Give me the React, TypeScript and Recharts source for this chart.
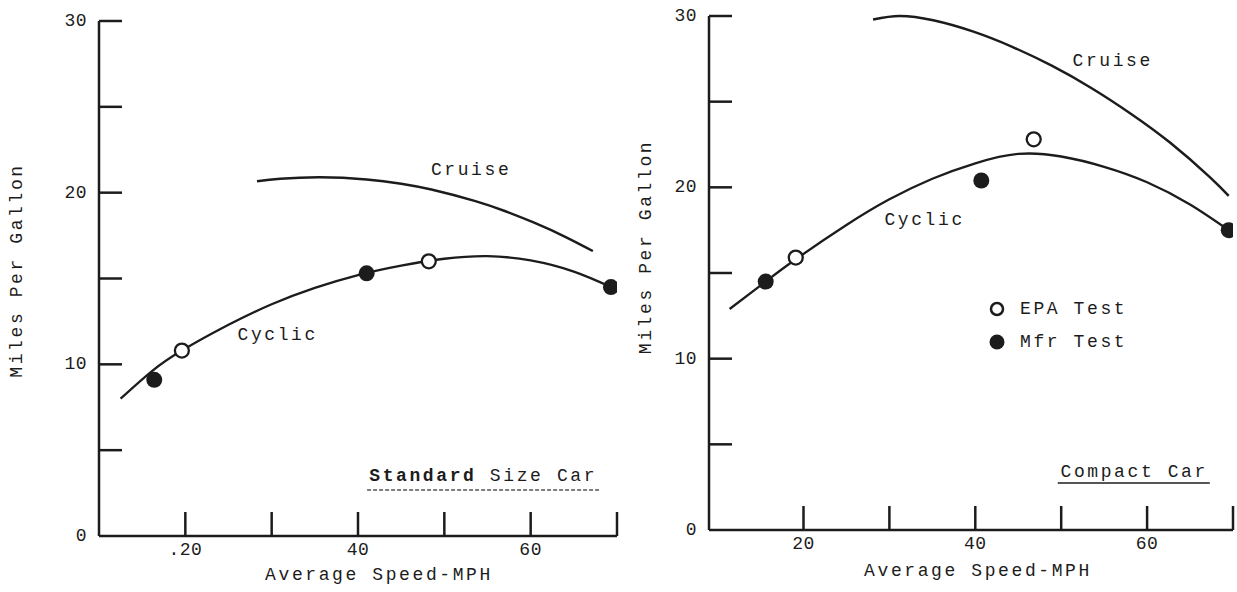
import React from 'react';
import {
  ComposedChart,
  Line,
  Scatter,
  XAxis,
  YAxis,
  ReferenceDot,
  ReferenceLine,
  Legend,
} from 'recharts';

const FONT = "'Liberation Mono', 'DejaVu Sans Mono', monospace";
const INK = '#1c1c1c';

// ---------- Standard size car (left) ----------
const stdCruise = [
  { x: 28.3, y: 20.67 },
  { x: 31, y: 20.81 },
  { x: 35.6, y: 20.9 },
  { x: 41, y: 20.77 },
  { x: 45, y: 20.52 },
  { x: 48.5, y: 20.18 },
  { x: 53.5, y: 19.52 },
  { x: 57, y: 18.93 },
  { x: 60.4, y: 18.25 },
  { x: 64, y: 17.43 },
  { x: 67.2, y: 16.6 },
];
const stdCyclic = [
  { x: 12.5, y: 8.0 },
  { x: 16, y: 9.55 },
  { x: 19.6, y: 10.8 },
  { x: 25, y: 12.3 },
  { x: 30, y: 13.5 },
  { x: 35, y: 14.45 },
  { x: 40, y: 15.2 },
  { x: 45, y: 15.75 },
  { x: 50, y: 16.15 },
  { x: 55, y: 16.3 },
  { x: 60, y: 16.05 },
  { x: 65, y: 15.4 },
  { x: 69.3, y: 14.5 },
];
const stdEpa = [
  { x: 19.6, y: 10.8 },
  { x: 48.2, y: 16.0 },
];
const stdMfr = [
  { x: 16.4, y: 9.1 },
  { x: 41.0, y: 15.3 },
  { x: 69.3, y: 14.5 },
];

// ---------- Compact car (right) ----------
const cmpCruise = [
  { x: 28.1, y: 29.8 },
  { x: 31.2, y: 30.0 },
  { x: 35.1, y: 29.75 },
  { x: 39.7, y: 29.1 },
  { x: 44.3, y: 28.2 },
  { x: 48.9, y: 27.1 },
  { x: 53.5, y: 25.8 },
  { x: 58.1, y: 24.3 },
  { x: 62.7, y: 22.6 },
  { x: 67.3, y: 20.6 },
  { x: 69.5, y: 19.5 },
];
const cmpCyclic = [
  { x: 11.4, y: 12.9 },
  { x: 15.6, y: 14.5 },
  { x: 19.1, y: 15.8 },
  { x: 25, y: 17.8 },
  { x: 30, y: 19.3 },
  { x: 35, y: 20.5 },
  { x: 40, y: 21.4 },
  { x: 45, y: 21.95 },
  { x: 50, y: 21.8 },
  { x: 55, y: 21.2 },
  { x: 60, y: 20.3 },
  { x: 65, y: 19.0 },
  { x: 69.5, y: 17.5 },
];
const cmpEpa = [
  { x: 19.1, y: 15.9 },
  { x: 46.8, y: 22.8 },
];
const cmpMfr = [
  { x: 15.6, y: 14.5 },
  { x: 40.7, y: 20.4 },
  { x: 69.5, y: 17.5 },
];

// ---------- axes / text ----------
const yTicks = [0, 5, 10, 15, 20, 25, 30];
const yLabeled = [0, 10, 20, 30];
const xTicks = [20, 30, 40, 50, 60, 70];
const stdXLabels: Record<number, string> = { 20: '.20', 40: '40', 60: '60' };
const cmpXLabels: Record<number, string> = { 20: '20', 40: '40', 60: '60' };
const xTitle = 'Average Speed-MPH';
const yTitle = 'Miles Per Gallon';
const legendItems = [
  { label: 'EPA Test', filled: false },
  { label: 'Mfr Test', filled: true },
];

const textStyle = {
  fontFamily: FONT,
  fontSize: 18,
  fill: INK,
  letterSpacing: 2.6,
};

const YTick = (props: any) => {
  const { x, y, payload } = props;
  const v = payload.value;
  return (
    <g>
      {v !== 0 && (
        <line x1={x} x2={x + 23} y1={y} y2={y} stroke={INK} strokeWidth={2.5} />
      )}
      {yLabeled.includes(v) && (
        <text
          x={x - 12}
          y={y}
          textAnchor="end"
          dominantBaseline="central"
          style={{ ...textStyle, letterSpacing: 0.5 }}
        >
          {v}
        </text>
      )}
    </g>
  );
};

const makeXTick = (labels: Record<number, string>) => (props: any) => {
  const { x, y, payload } = props;
  const v = payload.value;
  return (
    <g>
      <line x1={x} x2={x} y1={y} y2={y - 24} stroke={INK} strokeWidth={2.5} />
      {labels[v] && (
        <text
          x={x}
          y={y + 14}
          textAnchor="middle"
          dominantBaseline="central"
          style={{ ...textStyle, letterSpacing: 0.5 }}
        >
          {labels[v]}
        </text>
      )}
    </g>
  );
};

const makeXTitle = (dx: number, dy: number) => (props: any) => {
  const vb = props.viewBox;
  return (
    <text
      x={vb.x + vb.width / 2 + dx}
      y={vb.y + dy}
      textAnchor="middle"
      dominantBaseline="central"
      style={textStyle}
    >
      {xTitle}
    </text>
  );
};

const makeYTitle = (dx: number, dy: number) => (props: any) => {
  const vb = props.viewBox;
  const cx = vb.x + dx;
  const cy = vb.y + vb.height / 2 + dy;
  return (
    <text
      transform={`translate(${cx},${cy}) rotate(-90)`}
      textAnchor="middle"
      dominantBaseline="central"
      style={textStyle}
    >
      {yTitle}
    </text>
  );
};

const annot = (text: React.ReactNode) => (props: any) => {
  const vb = props.viewBox;
  return (
    <text
      x={vb.x + vb.width / 2}
      y={vb.y + vb.height / 2}
      textAnchor="middle"
      dominantBaseline="central"
      style={textStyle}
    >
      {text}
    </text>
  );
};

const OpenDot = (p: any) => (
  <circle cx={p.cx} cy={p.cy} r={7} fill="#fff" stroke={INK} strokeWidth={2.3} />
);
const FilledDot = (p: any) => <circle cx={p.cx} cy={p.cy} r={8} fill={INK} />;

const LegendBox = () => (
  <svg width={160} height={64}>
    {legendItems.map((it, i) => (
      <g key={it.label}>
        {it.filled ? (
          <circle cx={12} cy={14 + i * 33} r={7.5} fill={INK} />
        ) : (
          <circle cx={12} cy={14 + i * 33} r={6} fill="#fff" stroke={INK} strokeWidth={2.5} />
        )}
        <text x={35} y={14 + i * 33} dominantBaseline="central" style={textStyle}>
          {it.label}
        </text>
      </g>
    ))}
  </svg>
);

type PanelProps = {
  left: number;
  margin: { top: number; right: number; bottom: number; left: number };
  yAxisWidth: number;
  xAxisHeight: number;
  xDomain: [number, number];
  cruise: { x: number; y: number }[];
  cyclic: { x: number; y: number }[];
  epa: { x: number; y: number }[];
  mfr: { x: number; y: number }[];
  xLabels: Record<number, string>;
  xTitleOffset: [number, number];
  yTitleOffset: [number, number];
  cruisePos: [number, number];
  cyclicPos: [number, number];
  carPos: [number, number];
  carText: React.ReactNode;
  underline: [number, number, number];
  underlineDash?: string;
  underlineColor: string;
  showLegend?: boolean;
};

const Panel = (p: PanelProps) => (
  <div style={{ position: 'absolute', left: p.left, top: 0 }}>
    <ComposedChart width={620} height={592} margin={p.margin}>
      <XAxis
        dataKey="x"
        type="number"
        domain={p.xDomain}
        ticks={xTicks}
        interval={0}
        tickSize={0}
        tickMargin={0}
        tickLine={false}
        height={p.xAxisHeight}
        axisLine={{ stroke: INK, strokeWidth: 2.5 }}
        tick={makeXTick(p.xLabels)}
        label={makeXTitle(p.xTitleOffset[0], p.xTitleOffset[1])}
        allowDataOverflow
      />
      <YAxis
        dataKey="y"
        type="number"
        domain={[0, 30]}
        ticks={yTicks}
        interval={0}
        tickSize={0}
        tickMargin={0}
        tickLine={false}
        width={p.yAxisWidth}
        axisLine={{ stroke: INK, strokeWidth: 2.5 }}
        tick={YTick}
        label={makeYTitle(p.yTitleOffset[0], p.yTitleOffset[1])}
      />
      <Line
        data={p.cruise}
        dataKey="y"
        type="natural"
        stroke={INK}
        strokeWidth={2.5}
        dot={false}
        activeDot={false}
        isAnimationActive={false}
      />
      <Line
        data={p.cyclic}
        dataKey="y"
        type="natural"
        stroke={INK}
        strokeWidth={2.3}
        dot={false}
        activeDot={false}
        isAnimationActive={false}
      />
      <Scatter data={p.epa} dataKey="y" shape={OpenDot} isAnimationActive={false} />
      <Scatter data={p.mfr} dataKey="y" shape={FilledDot} isAnimationActive={false} />
      <ReferenceDot x={p.cruisePos[0]} y={p.cruisePos[1]} r={0} stroke="none" label={annot('Cruise')} />
      <ReferenceDot x={p.cyclicPos[0]} y={p.cyclicPos[1]} r={0} stroke="none" label={annot('Cyclic')} />
      <ReferenceDot x={p.carPos[0]} y={p.carPos[1]} r={0} stroke="none" label={annot(p.carText)} />
      <ReferenceLine
        segment={[
          { x: p.underline[0], y: p.underline[2] },
          { x: p.underline[1], y: p.underline[2] },
        ]}
        stroke={p.underlineColor}
        strokeWidth={1.6}
        strokeDasharray={p.underlineDash}
      />
      {p.showLegend && (
        <Legend
          layout="vertical"
          align="center"
          verticalAlign="middle"
          wrapperStyle={{ position: 'absolute', left: 368, top: 295, width: 'auto', height: 'auto' }}
          content={() => <LegendBox />}
        />
      )}
    </ComposedChart>
  </div>
);

export default function App() {
  return (
    <div
      style={{
        position: 'absolute',
        left: 0,
        top: 0,
        width: 1237,
        height: 592,
        background: '#fff',
        overflow: 'hidden',
      }}
    >
      <Panel
        left={0}
        margin={{ top: 21, right: 3, bottom: 0, left: 0 }}
        yAxisWidth={99}
        xAxisHeight={56}
        xDomain={[10, 70]}
        cruise={stdCruise}
        cyclic={stdCyclic}
        epa={stdEpa}
        mfr={stdMfr}
        xLabels={stdXLabels}
        xTitleOffset={[21, 39]}
        yTitleOffset={[17, -8]}
        cruisePos={[53.1, 21.3]}
        cyclicPos={[30.7, 11.7]}
        carPos={[54.5, 3.5]}
        carText={
          <>
            <tspan fontWeight="bold">Standard</tspan> Size Car
          </>
        }
        underline={[41.05, 68.05, 2.68]}
        underlineDash="4 2"
        underlineColor="#555"
      />
      <Panel
        left={617}
        margin={{ top: 16, right: 4, bottom: 0, left: 0 }}
        yAxisWidth={92}
        xAxisHeight={62}
        xDomain={[9, 70]}
        cruise={cmpCruise}
        cyclic={cmpCyclic}
        epa={cmpEpa}
        mfr={cmpMfr}
        xLabels={cmpXLabels}
        xTitleOffset={[7, 41]}
        yTitleOffset={[29, -26]}
        cruisePos={[56.0, 27.4]}
        cyclicPos={[34.1, 18.1]}
        carPos={[58.5, 3.36]}
        carText="Compact Car"
        underline={[49.6, 67.3, 2.74]}
        underlineColor={INK}
        showLegend
      />
    </div>
  );
}
